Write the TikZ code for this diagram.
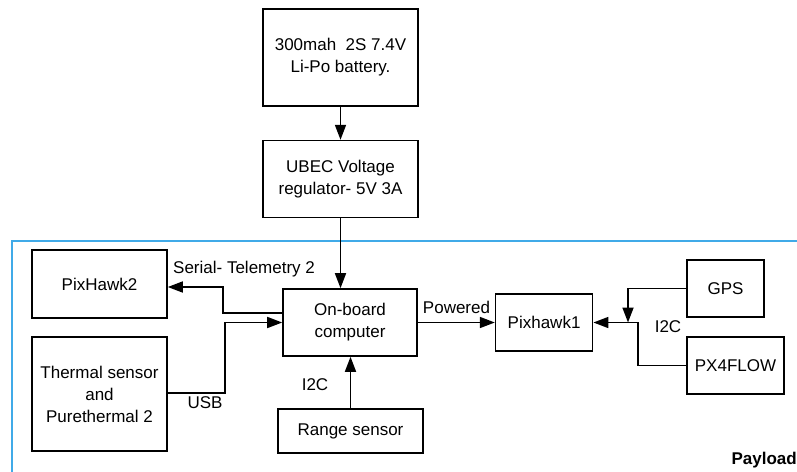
\documentclass[tikz,border=0pt]{standalone}
\usepackage{fontspec}
\setmainfont{Liberation Sans}
\usetikzlibrary{arrows.meta,positioning}

\definecolor{payloadblue}{RGB}{64,170,232}

\begin{document}
\begin{tikzpicture}[
  x=1pt,y=-1pt,
  block/.style={draw=black,line width=1.6pt,align=center,inner sep=0pt,
    font=\fontsize{17}{22}\selectfont},
  tag/.style={inner sep=0pt,font=\fontsize{17}{22}\selectfont},
  arrow/.style={-{Triangle[length=15pt,width=11pt]},line width=1.7pt,draw=black},
  frame/.style={draw=payloadblue,line width=1.4pt}
]
  \useasboundingbox (0,0) rectangle (797,471);

  % power chain
  \node[block,minimum width=155pt,minimum height=97pt] (battery) at (340.5,57.5)
    {300mah\ \ 2S 7.4V\\Li-Po battery.};
  \node[block,minimum width=155pt,minimum height=77pt,below=33pt of battery] (ubec)
    {UBEC Voltage\\regulator- 5V 3A};

  % payload frame
  \draw[frame] (830,241) -- (12,241) -- (12,500);
  \node[tag,font=\fontsize{17}{22}\selectfont\bfseries,anchor=east] (payload) at (797,460) {Payload};

  % payload blocks
  \node[block,minimum width=134pt,minimum height=67pt] (computer) at (350,322.5)
    {On-board\\computer};
  \node[block,minimum width=135pt,minimum height=68pt] (pixhawk2) at (99.5,284) {PixHawk2};
  \node[block,minimum width=135pt,minimum height=114pt] (thermal) at (99.5,394)
    {Thermal sensor\\and\\Purethermal 2};
  \node[block,minimum width=145pt,minimum height=44pt] (range) at (350.5,431) {Range sensor};
  \node[block,minimum width=97pt,minimum height=57pt,right=77pt of computer] (pixhawk1) {Pixhawk1};
  \node[block,minimum width=77pt,minimum height=57pt] (gps) at (725.5,288.5) {GPS};
  \node[block,minimum width=97pt,minimum height=57pt] (px4flow) at (735.5,365.5) {PX4FLOW};
  \coordinate (i2cjoin) at (628,322.5);

  \draw[arrow] (battery) -- (ubec);
  \draw[arrow] (ubec) -- (ubec |- computer.north);
  \draw[arrow] ([yshift=9.5pt]computer.west) -- ++(-59,0) |- ([yshift=-3pt]pixhawk2.east);
  \draw[arrow] ([yshift=1pt]thermal.east) -- ++(57,0) |- (computer.west);
  \draw[arrow] (range) -- (range |- computer.south);
  \draw[arrow] (computer) -- (pixhawk1);
  \draw[arrow] (gps.west) -| (i2cjoin);
  \draw[arrow] (px4flow.west) -- ++(-48,0) |- (pixhawk1.east);

  % connector labels
  \node[tag,anchor=west] (serial) at (173,269) {Serial- Telemetry 2};
  \node[tag] (usb) at (205,403) {USB};
  \node[tag] (rangei2c) at (315,385) {I2C};
  \node[tag] (powered) at (456.5,307) {Powered};
  \node[tag] (flowi2c) at (668,327) {I2C};
\end{tikzpicture}
\end{document}
